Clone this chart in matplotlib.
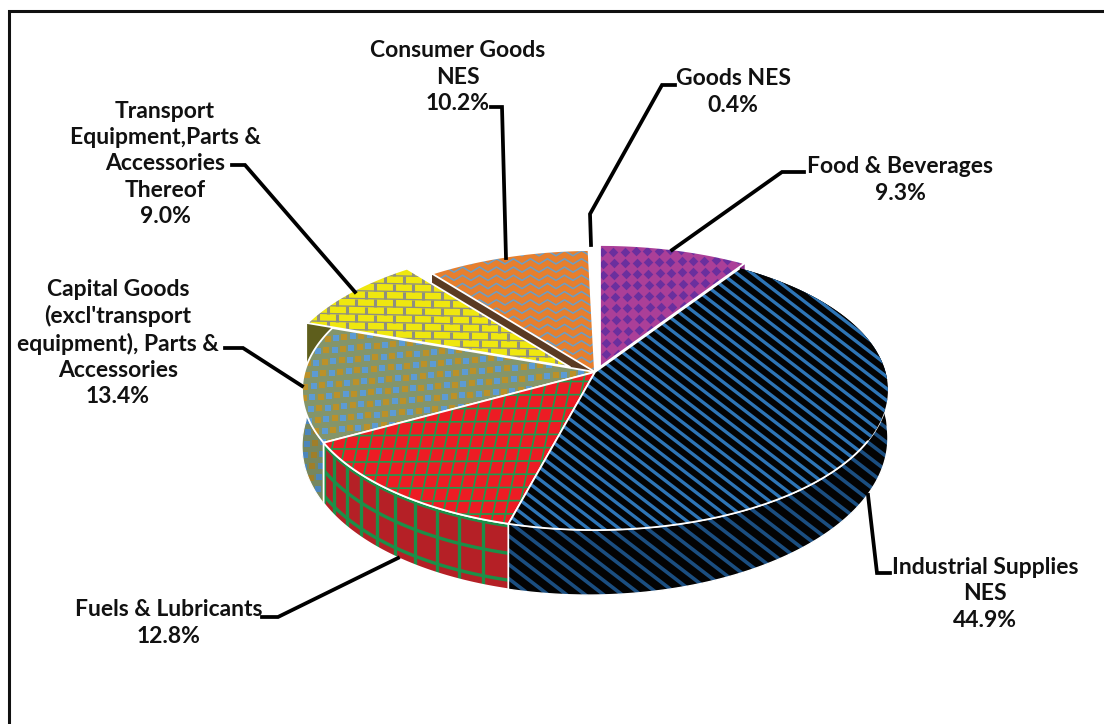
import numpy as np
import matplotlib
matplotlib.use("Agg")
import matplotlib.pyplot as plt
from matplotlib.collections import LineCollection
from matplotlib.patches import Polygon

# clockwise from 12 o'clock
categories = ["Food & Beverages", "Industrial Supplies\nNES", "Fuels & Lubricants",
              "Capital Goods\n(excl'transport\nequipment), Parts &\nAccessories",
              "Transport\nEquipment,Parts &\nAccessories\nThereof",
              "Consumer Goods\nNES", "Goods NES"]
shares = [9.3, 44.9, 12.8, 13.4, 9.0, 10.2, 0.4]

# pie geometry, in pixels
CX, CY = 595, 372
RX, RY = 290.5, 137.7
K = 0.1287
shift = [(5, -5), (0, 0), (0, 0), (0, 0), (-25, -5), (0, 0), (0, 0)]

label_pos = [(900, 180), (985, 594), (169, 623), (118, 343), (165, 164), (458, 77), (733, 92)]
leaders = [
    [(804, 172), (782, 172), (672, 250)],
    [(890, 573), (877, 573), (868, 495)],
    [(262, 617), (278, 617), (398, 558)],
    [(225, 348), (243, 348), (302, 386)],
    [(232, 165), (245, 165), (355, 292)],
    [(491, 107), (502, 107), (506, 258)],
    [(675, 85), (662, 85), (590, 214), (591, 245)],
]


def project(theta, off=(0, 0)):
    th = np.radians(theta)
    u, v = np.sin(th), np.cos(th)
    d = 1 + K * v
    return CX + off[0] + RX * u / d, CY + off[1] - RY * v / d


def depth(theta):
    th = np.radians(theta)
    return 50 - 15 * np.cos(th) - 4 * np.sin(th)


def top_poly(a, b, off):
    t = np.linspace(a, b, 120)
    x, y = project(t, off)
    return np.vstack([[CX + off[0], CY + off[1]], np.c_[x, y]])


def side_poly(a, b, off):
    t = np.linspace(a, b, 120)
    x, y = project(t, off)
    up = np.c_[x, y]
    low = np.c_[x, y + depth(t)][::-1]
    return np.vstack([up, low])


def cut_poly(theta, off):
    x, y = project(theta, off)
    dd = depth(theta)
    ax0, ay0 = CX + off[0], CY + off[1]
    return [(ax0, ay0), (x, y), (x, y + dd), (ax0, ay0 + dd)]


def base(ax, pts, color, z):
    p = Polygon(pts, closed=True, fc=color, ec="none", zorder=z)
    ax.add_patch(p)
    return p


def outline(ax, pts, z, lw=1.3, closed=True):
    ax.add_patch(Polygon(pts, closed=closed, fc="none", ec="white", lw=lw, zorder=z, joinstyle="round"))


def lines(ax, segs, color, lw, z, clip):
    lc = LineCollection(segs, colors=color, linewidths=lw, zorder=z, capstyle="butt")
    ax.add_collection(lc)
    lc.set_clip_path(clip)


def stripes(ax, color, lw, gap, clip, z):
    # down-right diagonals
    segs = []
    for c in np.arange(-400, 1500, gap):
        segs.append([(c, 150), (c + 650, 650)])
    lines(ax, segs, color, lw, z, clip)


def dots(ax, clip, z):
    xs, ys = [], []
    for i, y in enumerate(np.arange(230, 380, 11.3)):
        for x in np.arange(590, 760, 11.3):
            xs.append(x + i * 0.45)
            ys.append(y - (x - 590) * 0.03)
    s = ax.scatter(xs, ys, marker="D", s=24, c="#6A2F9E", linewidths=0, zorder=z)
    s.set_clip_path(clip)


def grid_top(ax, clip, z):
    segs = []
    for y in np.arange(370, 540, 13.2):
        segs.append([(300, y), (620, y - 2)])
    for x in np.arange(200, 720, 12.5):
        segs.append([(x, 540), (x + 38, 360)])
    lines(ax, segs, "#1E9C4E", 1.2, z, clip)


def grid_side(ax, a, b, off, clip, z):
    segs = []
    for t in np.arange(a + 4.6, b, 4.6):
        x, y = project(t, off)
        segs.append([(x, y), (x, y + depth(t))])
    ts = np.linspace(a, b, 60)
    x, y = project(ts, off)
    for f in [0.03, 0.45, 0.86]:
        segs.append(np.c_[x, y + depth(ts) * f])
    lines(ax, segs, "#1C8F48", 2.4, z, clip)


def checks(ax, clip, z, blue="#5C9BD5", gold="#BC9128", size=25):
    bx, by, gx, gy = [], [], [], []
    for i, y in enumerate(np.arange(320, 520, 11.6)):
        for j, x in enumerate(np.arange(280, 620, 8.4)):
            px = x - (y - 320) * 0.12
            py = y - (x - 280) * 0.09
            if j % 2:
                bx.append(px)
                by.append(py)
            else:
                gx.append(px)
                gy.append(py)
    for xs, ys, col in [(bx, by, blue), (gx, gy, gold)]:
        s = ax.scatter(xs, ys, marker="s", s=size, c=col, linewidths=0, zorder=z)
        s.set_clip_path(clip)


def bricks(ax, clip, z):
    hor, ver = [], []
    rows = np.arange(262, 380, 7.8)
    for i, y in enumerate(rows):
        hor.append([(290, y + 4), (600, y + 10)])
        for x in np.arange(280, 600, 19):
            px = x + (i % 2) * 9.5
            yy = y + (px - 290) * 0.02
            ver.append([(px, yy + 4), (px, yy + 11.8)])
    lines(ax, hor, "#8F8F80", 0.95, z, clip)
    lines(ax, ver, "#8F8F80", 2.2, z, clip)


def zigzag(ax, clip, z):
    segs = []
    for y in np.arange(245, 390, 8.2):
        xs = np.arange(420, 610, 8.5)
        ys = y + 2.6 * (-1.0) ** np.arange(len(xs))
        segs.append(np.c_[xs, ys])
    lines(ax, segs, "#6E9DC2", 1.15, z, clip)


fig = plt.figure(figsize=(11.04, 7.24), dpi=100)
ax = fig.add_axes([0, 0, 1, 1])
ax.set_xlim(0, 1104)
ax.set_ylim(724, 0)
ax.axis("off")

# frame: top and left only
ax.plot([9, 9, 1104], [724, 11, 11], color="#111111", lw=2.2, zorder=1, solid_joinstyle="miter")

ends = np.cumsum(shares) / np.sum(shares) * 360
starts = np.r_[0, ends[:-1]]
FOOD, IND, FUEL, CAP, TRAN, CONS, GOODS = range(7)

# cut faces, back to front
base(ax, cut_poly(starts[CONS], shift[CONS]), "#5A3A22", 2)
base(ax, cut_poly(starts[FOOD + 1], shift[FOOD]), "#8E2D8C", 2)
base(ax, cut_poly(starts[TRAN], shift[TRAN]), "#6B6B20", 3)

# outer walls
base(ax, side_poly(starts[TRAN], ends[TRAN], shift[TRAN]), "#5E5E1C", 3)
p = base(ax, side_poly(starts[CAP], ends[CAP], shift[CAP]), "#76875F", 4)
checks(ax, p, 4.2, blue="#4C86BC", gold="#A07E28", size=20)
outline(ax, side_poly(starts[CAP], min(ends[CAP], 272), shift[CAP]), 4.3, lw=0.8)

p = base(ax, side_poly(starts[FUEL], ends[FUEL], shift[FUEL]), "#B52026", 5)
grid_side(ax, starts[FUEL], ends[FUEL], shift[FUEL], p, 5.2)
outline(ax, side_poly(starts[FUEL], ends[FUEL], shift[FUEL]), 5.3)

p = base(ax, side_poly(starts[IND], ends[IND], shift[IND]), "#030303", 6)
stripes(ax, "#1B4E80", 2.6, 18.5, p, 6.2)
outline(ax, side_poly(starts[IND] + 60, ends[IND], shift[IND]), 6.3, lw=1.0)

# top faces
tops = [(CONS, "#E67F2E", zigzag, 10), (FOOD, "#AB3F98", dots, 10), (TRAN, "#EFE70F", bricks, 11),
        (CAP, "#84956A", checks, 12), (FUEL, "#ED1C24", grid_top, 13)]
for i, col, fill, z in tops:
    pts = top_poly(starts[i], ends[i], shift[i])
    p = base(ax, pts, col, z)
    fill(ax, p, z + 0.2)
    outline(ax, pts, z + 0.3)

pts = top_poly(starts[IND], ends[IND], shift[IND])
p = base(ax, pts, "#030303", 14)
stripes(ax, "#2E75B6", 2.4, 15.5, p, 14.2)
# the back of the rim has no white edge
tt = np.linspace(118, ends[IND], 80)
rim = np.c_[project(tt, shift[IND])]
outline(ax, np.vstack([rim, [CX, CY], project(starts[IND], shift[IND])]), 14.3, closed=False)

# leader lines and labels
for pts in leaders:
    xs, ys = zip(*pts)
    ax.plot(xs, ys, color="black", lw=2.7, zorder=20, solid_joinstyle="miter")

for name, val, (x, y) in zip(categories, shares, label_pos):
    ax.text(x, y, f"{name}\n{val:.1f}%", ha="center", va="center", family="Lato",
            weight="bold", fontsize=16.5, color="#111111", linespacing=1.3, zorder=21)

fig.savefig("out.png", dpi=100)
